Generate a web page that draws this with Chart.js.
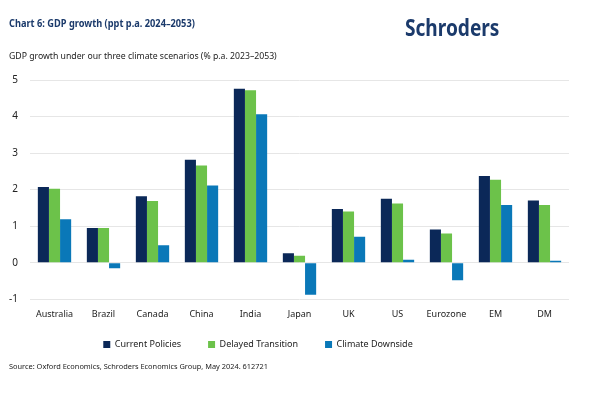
<!DOCTYPE html>
<html>
<head>
<meta charset="utf-8">
<script src="https://cdn.jsdelivr.net/npm/chart.js@4/dist/chart.umd.min.js"></script>
<style>
  html, body { margin:0; padding:0; background:#fff; }
  #wrap { position:relative; width:600px; height:396px; overflow:hidden; font-family:"Noto Sans","Open Sans",sans-serif; }
  #c { position:absolute; left:0; top:0; }
  .t { position:absolute; white-space:nowrap; }
  #title { left:9px; top:16px; font-size:10.5px; font-weight:700; color:#1b3a6b; transform:scaleX(0.88); transform-origin:0 0; }
  #logo { left:405px; top:16px; font-size:23px; line-height:1; font-weight:700; color:#1b3a6b; transform:scaleX(0.83); transform-origin:0 0; }
  #sub { left:9px; top:50px; font-size:8.7px; color:#222; }
  #src { left:9px; top:361px; font-size:7.4px; color:#222; }
</style>
</head>
<body>
<div id="wrap">
  <canvas id="c" width="600" height="396"></canvas>
  <div class="t" id="title">Chart 6: GDP growth (ppt p.a. 2024–2053)</div>
  <div class="t" id="logo">Schroders</div>
  <div class="t" id="sub">GDP growth under our three climate scenarios (% p.a. 2023–2053)</div>
  <div class="t" id="src">Source: Oxford Economics, Schroders Economics Group, May 2024. 612721</div>
</div>
<script>
const categories = ["Australia","Brazil","Canada","China","India","Japan","UK","US","Eurozone","EM","DM"];
const currentPolicies    = [2.07, 0.95, 1.82, 2.82, 4.76, 0.26, 1.47, 1.75, 0.91, 2.37, 1.70];
const delayedTransition  = [2.02, 0.95, 1.69, 2.66, 4.72, 0.19, 1.40, 1.62, 0.80, 2.27, 1.58];
const climateDownside    = [1.19, -0.15, 0.48, 2.11, 4.06, -0.88, 0.71, 0.08, -0.48, 1.58, 0.05];
const seriesNames = ["Current Policies","Delayed Transition","Climate Downside"];
const yTicks = [-1, 0, 1, 2, 3, 4, 5];

const FONT = '"Noto Sans","Open Sans",sans-serif';

const legendPlace = {
  id: 'legendPlace',
  beforeLayout(chart) {
    const lg = chart.legend;
    if (lg && !lg._patched) {
      const orig = lg.fit;
      lg.fit = function () { orig.call(this); this.height = 66; };
      lg._patched = true;
    }
  },
  afterLayout(chart) {
    const lg = chart.legend;
    if (!lg) return;
    lg.left = 0; lg.right = 516; lg.width = 516;
    lg.top = 313; lg.bottom = lg.top + lg.height;
  }
};

new Chart(document.getElementById('c'), {
  type: 'bar',
  data: {
    labels: categories,
    datasets: [
      { label: seriesNames[0], data: currentPolicies, backgroundColor: '#0b2858' },
      { label: seriesNames[1], data: delayedTransition, backgroundColor: '#6cc24a' },
      { label: seriesNames[2], data: climateDownside, backgroundColor: '#0a78b8' }
    ]
  },
  options: {
    responsive: false,
    animation: false,
    devicePixelRatio: 1,
    layout: { padding: { left: 0, right: 31, top: 80, bottom: 0 } },
    datasets: { bar: { categoryPercentage: 0.68, barPercentage: 1.0 } },
    plugins: {
      title: { display: false },
      tooltip: { enabled: false },
      legend: {
        position: 'bottom',
        labels: {
          boxWidth: 7, boxHeight: 7, padding: 27,
          color: '#222',
          font: { family: FONT, size: 9 }
        }
      }
    },
    scales: {
      x: {
        grid: { display: false, drawTicks: false },
        border: { display: false },
        ticks: { color: '#222', padding: 10, font: { family: FONT, size: 9 }, maxRotation: 0, autoSkip: false }
      },
      y: {
        min: -1, max: 5,
        afterBuildTicks(s) { s.ticks = yTicks.map(v => ({ value: v })); },
        grid: { color: '#e6e6e6', lineWidth: 1, drawTicks: false },
        border: { display: false },
        ticks: { color: '#222', padding: 12, font: { family: FONT, size: 10 } },
        afterFit(s) { s.width = 30; }
      }
    }
  },
  plugins: [legendPlace]
});
</script>
</body>
</html>
